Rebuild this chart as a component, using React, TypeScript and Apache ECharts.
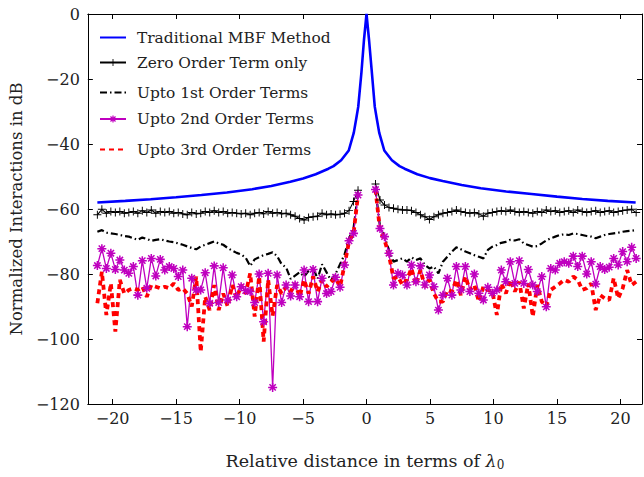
import React, { useEffect, useRef } from "react";
import * as echarts from "echarts";

// sampling grid of the element distances (in wavelengths)
const STEP = 0.354;
const LEFT_START = -21.2;
const RIGHT_START = 0.708;

const X_MIN = -21.95;
const X_MAX = 21.7;
const Y_MIN = -120;
const Y_MAX = 0;
const Y_INTERVAL = 20;

const SERIES_NAMES = [
  "Traditional MBF Method",
  "Zero Order Term only",
  "Upto 1st Order Terms",
  "Upto 2nd Order Terms",
  "Upto 3rd Order Terms",
];

const blueX = [-21.2, -19, -17, -15, -13, -11, -9, -7.5, -6, -5, -4, -3, -2.6, -2, -1.4, -1, -0.8, -0.65, -0.4, -0.2, 0, 0.2, 0.4, 0.65, 0.8, 1, 1.4, 2, 2.6, 3, 4, 5, 6, 7.5, 9, 11, 13, 15, 17, 19, 21.2];
const blueY = [-58, -57.5, -57, -56.4, -55.7, -54.9, -53.9, -52.9, -51.6, -50.6, -49.3, -47.6, -46.8, -45, -42, -36.5, -32, -28.5, -18, -8, 0, -8, -17, -28.5, -32, -36.5, -42, -45, -46.8, -47.6, -49.3, -50.5, -51.4, -52.6, -53.6, -54.6, -55.4, -56.2, -56.9, -57.5, -58];

const zeroLeft = [-61.8, -60.1, -61.3, -60.8, -61.1, -60.8, -61.3, -61.1, -60.8, -61.3, -60.5, -61.1, -60.3, -61.3, -60.8, -61.1, -60.8, -61.3, -61.1, -61.5, -61.8, -61.1, -61.5, -61.3, -60.8, -61.1, -60.5, -61.1, -60.8, -61.3, -61.1, -61.3, -61.5, -61.3, -61.8, -61.3, -61.1, -61.5, -60.8, -61.3, -61.1, -61.5, -61.3, -61.8, -62.2, -62.9, -63.4, -62.6, -62.4, -62.2, -61.3, -61.8, -61.5, -61.8, -61.6, -61.3, -60.5, -57.7, -54.2];
const zeroRight = [-52.3, -57.2, -58.8, -59.5, -59.8, -60.1, -60.3, -60.3, -60.5, -61.1, -61.8, -62.4, -63.2, -62.4, -61.8, -61.3, -61.1, -60.8, -60.3, -60.8, -61.1, -61.3, -61.1, -61.5, -62.2, -61.3, -61.1, -60.8, -60.5, -60.8, -60.3, -60.8, -61.1, -60.8, -61.1, -61.3, -60.8, -61.1, -60.3, -60.8, -60.5, -61.1, -60.8, -60.5, -61.1, -60.3, -60.8, -61.1, -60.8, -60.5, -61.1, -60.8, -60.5, -61.1, -60.8, -60.5, -60.3, -60.1, -61.1];

const firstLeft = [-67, -66.5, -67.3, -67.5, -67.7, -68, -68.3, -68.5, -69, -69.5, -68.8, -69.2, -69.8, -69.5, -69.3, -69.7, -70, -70.2, -70.6, -71, -71.5, -72, -72.4, -71.5, -71, -70.5, -70, -70.6, -71, -72, -72.8, -73.5, -74, -75, -77.5, -75.5, -74.8, -74.2, -73.8, -73.3, -74.5, -77, -78, -81.5, -80.5, -79.5, -80.8, -79, -78, -81.5, -77, -79.5, -82, -80, -77, -74, -69, -66, -55];
const firstRight = [-54, -65.4, -68.5, -72.6, -76.2, -75.7, -75.2, -76.2, -74.9, -75.7, -75.2, -77.2, -78.3, -77.7, -79.8, -76.2, -74.7, -73.1, -71.8, -72.4, -73.1, -73.6, -74.2, -74.7, -75.2, -72.6, -71.6, -71.1, -70.4, -70.1, -69.5, -69.7, -69.3, -70.6, -71.1, -71.6, -71.4, -70.6, -69.7, -69, -68.5, -68, -67.8, -68, -67.5, -67.7, -68, -68.3, -68.5, -69, -68.5, -68, -67.7, -67.5, -67.3, -67, -66.8, -66.7, -66.5];

const secondLeft = [-77.4, -72.2, -78.3, -73.6, -78.6, -75.7, -78.8, -79.8, -77.7, -86.5, -75.9, -84.4, -75.2, -80.6, -75.5, -78.8, -77.7, -78.3, -80.8, -78.8, -96.2, -81.3, -84.9, -84.9, -79.6, -89, -77.5, -88.8, -78.1, -88, -80.3, -87, -83.9, -85.1, -85.4, -88.8, -80, -94.7, -79.8, -114.9, -80.3, -88.8, -83.4, -86.8, -83.4, -87, -78.8, -88.5, -78.6, -88.5, -81.3, -86, -85.4, -81, -84.1, -77.2, -69.8, -67.5, -55.7];
const secondRight = [-54, -66, -68.5, -73.6, -83.4, -79.8, -80.3, -83.4, -77.2, -82.4, -77.5, -83.4, -80.3, -83.9, -91.1, -86.5, -81.3, -86.5, -77.7, -84.9, -77.7, -85.4, -80, -85.9, -88, -84.1, -85.9, -84.9, -78.8, -82.4, -76.2, -82.9, -75.9, -82.9, -78.6, -83.4, -85.4, -80.8, -90.1, -78.3, -78.8, -76.7, -76.2, -76.7, -74.5, -77.7, -74.5, -80, -76.2, -83.1, -77.7, -78.6, -77.9, -75.2, -77.2, -73.1, -76.2, -71.8, -75.2];

const thirdLeft = [-89, -79.3, -92.6, -82.9, -97.7, -81.8, -86, -84.9, -84.4, -84.9, -83.9, -87, -83.4, -83.9, -84.4, -83.9, -84.4, -82.9, -84.9, -84.4, -86, -90, -80.8, -103.9, -87, -91.1, -83.4, -91.1, -86, -90, -83.4, -87.5, -83.4, -86, -79.8, -93.1, -80.8, -100.8, -81.8, -92.9, -83.4, -86, -83.9, -85.4, -82.9, -87, -81.8, -86, -80.8, -85.4, -81.8, -83.9, -82.4, -81.3, -83.9, -77.2, -70, -67.5, -55.7];
const thirdRight = [-54, -66.5, -69.5, -74.2, -81.3, -80.8, -83.4, -81.8, -78.3, -83.4, -78.8, -83.9, -81.8, -86, -88.5, -88.5, -84.9, -85.4, -81.8, -86.5, -80.8, -84.9, -83.4, -88.5, -83.9, -84.9, -85.4, -92.6, -82.9, -86, -81.8, -85.4, -82.4, -90.6, -82.9, -93.1, -83.4, -88.5, -90, -84.9, -83.9, -82.9, -81.8, -82.4, -80.8, -81.8, -84.9, -84.4, -82.9, -91.1, -86.5, -87.5, -88, -81.3, -87.5, -84.4, -78.8, -83.4, -82.4];

const FONT = "DejaVu Serif";
const TEXT = "#222";

const PLUS = "path://M-0.6,-5H0.6V-0.6H5V0.6H0.6V5H-0.6V0.6H-5V-0.6H-0.6Z";
const STAR =
  "path://M-0.85,-5H0.85V5H-0.85Z M-5,-0.85H5V0.85H-5Z M-4.1,-2.9L-2.9,-4.1L4.1,2.9L2.9,4.1Z M2.9,-4.1L4.1,-2.9L-2.9,4.1L-4.1,2.9Z";

function pairs(left: number[], right: number[]) {
  const out: any[] = [];
  left.forEach((v, i) => out.push([+(LEFT_START + i * STEP).toFixed(3), v]));
  out.push([0, "-"]);
  right.forEach((v, i) => out.push([+(RIGHT_START + i * STEP).toFixed(3), v]));
  return out;
}

const minus = (v: number) => String(v).replace("-", "\u2212");

export default function App() {
  const ref = useRef<HTMLDivElement>(null);
  useEffect(() => {
    if (!ref.current) return;
    const chart = echarts.init(ref.current, undefined, { renderer: "svg" });
    const legendCenters = [37.5, 62.5, 92.5, 119, 149.5];
    const hasSymbol = [false, true, false, true, false];
    const axisCommon = {
      axisLine: { show: true, onZero: false, lineStyle: { color: "#000", width: 1 } },
      axisTick: { show: true, inside: true, length: 5, lineStyle: { color: "#000" } },
      splitLine: { show: false },
    };
    chart.setOption({
      animation: false,
      backgroundColor: "#fff",
      textStyle: { fontFamily: FONT },
      grid: { left: 86, right: 2, top: 14, bottom: 73, containLabel: false },
      legend: SERIES_NAMES.map((n, i) => ({
        data: [n],
        left: 99,
        top: legendCenters[i] - 10,
        padding: 0,
        itemWidth: 26,
        itemHeight: 9,
        selectedMode: false,
        itemStyle: hasSymbol[i] ? {} : { opacity: 0 },
        textStyle: { fontFamily: FONT, fontSize: 15.4, color: TEXT, lineHeight: 20, padding: [0, 0, 0, 6] },
      })),
      xAxis: [
        {
          type: "value",
          min: X_MIN,
          max: X_MAX,
          splitNumber: 9,
          position: "bottom",
          ...axisCommon,
          axisLabel: {
            showMinLabel: false,
            showMaxLabel: false,
            fontFamily: FONT,
            fontSize: 16,
            color: TEXT,
            margin: 6,
            formatter: minus,
          },
          name: "{a|Relative distance in terms of }{l|\u03bb}{s|0}",
          nameLocation: "middle",
          nameGap: 47,
          nameTextStyle: {
            rich: {
              a: { fontFamily: FONT, fontSize: 17.5, color: TEXT, lineHeight: 20 },
              l: { fontFamily: FONT, fontSize: 17.5, color: TEXT, fontStyle: "italic", lineHeight: 20 },
              s: { fontFamily: FONT, fontSize: 12, color: TEXT, lineHeight: 12, verticalAlign: "bottom" },
            },
          },
        },
        {
          type: "value",
          min: X_MIN,
          max: X_MAX,
          splitNumber: 9,
          position: "top",
          ...axisCommon,
          axisLabel: { show: false },
        },
      ],
      yAxis: [
        {
          type: "value",
          min: Y_MIN,
          max: Y_MAX,
          interval: Y_INTERVAL,
          position: "left",
          ...axisCommon,
          axisLabel: { fontFamily: FONT, fontSize: 16, color: TEXT, margin: 8, formatter: minus },
          name: "Normalized Interactions in dB",
          nameLocation: "middle",
          nameGap: 60,
          nameTextStyle: { fontFamily: FONT, fontSize: 16.5, color: TEXT },
        },
        {
          type: "value",
          min: Y_MIN,
          max: Y_MAX,
          interval: Y_INTERVAL,
          position: "right",
          ...axisCommon,
          axisLabel: { show: false },
        },
      ],
      series: [
        {
          name: SERIES_NAMES[0],
          type: "line",
          data: blueX.map((x, i) => [x, blueY[i]]),
          showSymbol: false,
          symbol: "none",
          lineStyle: { color: "#0000ff", width: 2.6 },
          itemStyle: { color: "#0000ff" },
        },
        {
          name: SERIES_NAMES[1],
          type: "line",
          data: pairs(zeroLeft, zeroRight),
          symbol: PLUS,
          symbolSize: 8,
          showAllSymbol: true,
          lineStyle: { color: "#000", width: 1.1 },
          itemStyle: { color: "#000" },
        },
        {
          name: SERIES_NAMES[2],
          type: "line",
          data: pairs(firstLeft, firstRight),
          symbol: "none",
          lineStyle: { color: "#000", width: 2.2, type: [7, 3, 1.5, 3] },
          itemStyle: { color: "#000" },
        },
        {
          name: SERIES_NAMES[3],
          type: "line",
          data: pairs(secondLeft, secondRight),
          symbol: STAR,
          symbolSize: 9,
          showAllSymbol: true,
          lineStyle: { color: "#bf00bf", width: 1.3 },
          itemStyle: { color: "#bf00bf" },
        },
        {
          name: SERIES_NAMES[4],
          type: "line",
          data: pairs(thirdLeft, thirdRight),
          symbol: "none",
          lineStyle: { color: "#ff0000", width: 3.8, type: [5, 4] },
          itemStyle: { color: "#ff0000" },
        },
      ],
    });
    return () => chart.dispose();
  }, []);
  return (
    <div
      ref={ref}
      style={{ position: "absolute", left: 0, top: 0, width: 644, height: 477, background: "#fff" }}
    />
  );
}
